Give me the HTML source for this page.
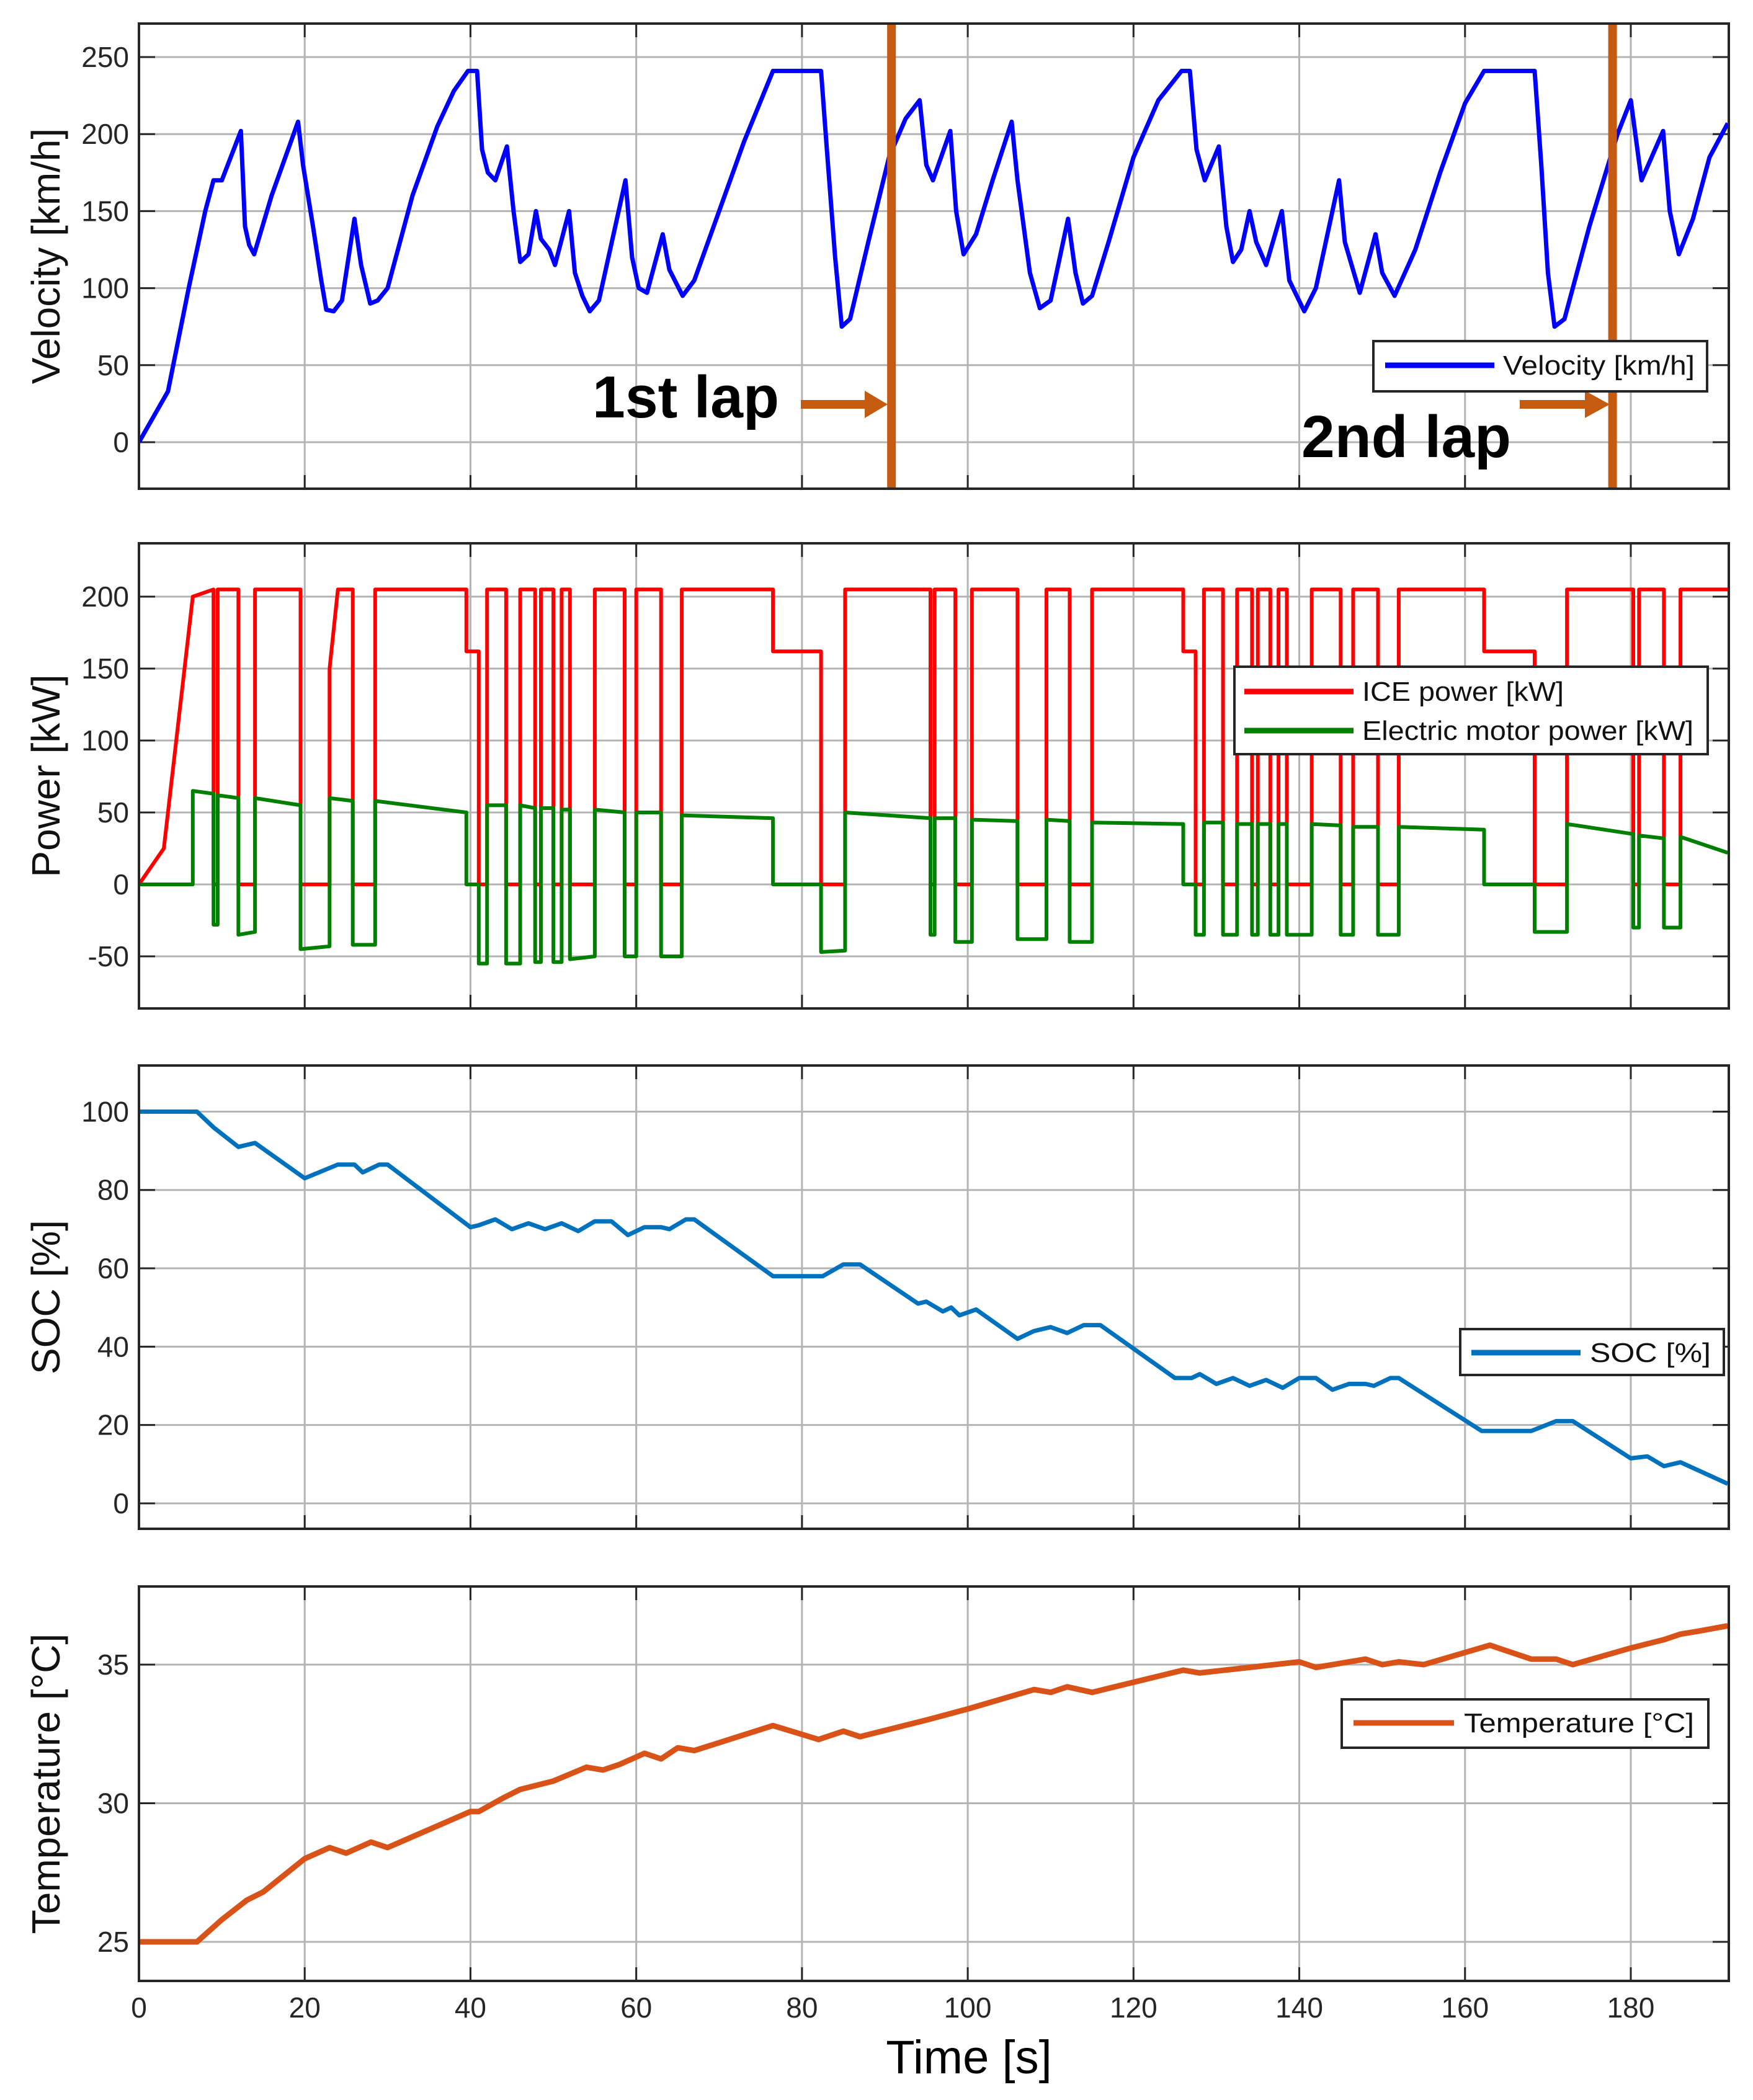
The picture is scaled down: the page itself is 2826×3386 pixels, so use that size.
<!DOCTYPE html>
<html><head><meta charset="utf-8">
<style>
html,body{margin:0;padding:0;background:#fff;}
svg{display:block;font-family:"Liberation Sans",sans-serif;}
</style></head>
<body>
<svg id="chart" width="2826" height="3386" viewBox="0 0 2826 3386" xmlns="http://www.w3.org/2000/svg">
<rect x="0" y="0" width="2826" height="3386" fill="#fff"/>
</svg>
<script>
// ---------- data ----------
const xTicks = [0,20,40,60,80,100,120,140,160,180];
const velTicks = [0,50,100,150,200,250];
const powTicks = [-50,0,50,100,150,200];
const socTicks = [0,20,40,60,80,100];
const tempTicks = [25,30,35];
const lapTimes = [90.8,177.8];

const velocity = [[0,0],[3.5,33],[6,100],[8,150],[9,170],[10,170],[12.3,202],[12.8,140],[13.3,128],[13.9,122],[16,160],[19.2,208],[19.8,180],[21,140],[22,105],[22.6,86],[23.5,85],[24.5,92],[26,145],[26.8,115],[27.9,90],[28.8,92],[30,100],[33,160],[36,205],[38,228],[39.7,241],[40.8,241],[41.4,190],[42.1,175],[43,170],[44.4,192],[45.2,150],[46,117],[47,122],[47.9,150],[48.5,132],[49.5,125],[50.2,115],[51.9,150],[52.6,110],[53.5,95],[54.4,85],[55.5,92],[58.7,170],[59.5,120],[60.3,100],[61.3,97],[63.2,135],[64,112],[65.6,95],[67,105],[70,150],[73,195],[76.5,241],[82.3,241],[83,190],[84,120],[84.8,75],[85.8,80],[88,130],[90.5,185],[92.5,210],[94.2,222],[95,180],[95.8,170],[97.9,202],[98.6,150],[99.5,122],[101,135],[103,170],[105.3,208],[106,170],[107.5,110],[108.7,87],[110,92],[112.1,145],[113,110],[113.9,90],[115,95],[117,130],[120,185],[123,222],[125.8,241],[126.8,241],[127.6,190],[128.6,170],[130.3,192],[131.2,140],[132,117],[133,125],[134,150],[134.8,130],[136,115],[137.9,150],[138.8,105],[140.6,85],[142,100],[144.8,170],[145.5,130],[147.3,97],[149.2,135],[150,110],[151.5,95],[154,125],[157,175],[160,220],[162.3,241],[168.4,241],[169.2,180],[170,110],[170.8,75],[172,80],[175,140],[178.4,200],[180,222],[181.3,170],[183.9,202],[184.7,150],[185.8,122],[187.5,145],[189.5,185],[191.7,207]];

const icePower = [[0,0],[3,25],[6.5,200],[9,205],[9,0],[9.5,0],[9.5,205],[12,205],[12,0],[14,0],[14,205],[19.5,205],[19.5,0],[23,0],[23,150],[24,205],[25.8,205],[25.8,0],[28.5,0],[28.5,205],[39.5,205],[39.5,162],[41,162],[41,0],[42,0],[42,205],[44.3,205],[44.3,0],[46,0],[46,205],[47.8,205],[47.8,0],[48.5,0],[48.5,205],[50,205],[50,0],[51,0],[51,205],[52,205],[52,0],[55,0],[55,205],[58.6,205],[58.6,0],[60,0],[60,205],[63,205],[63,0],[65.5,0],[65.5,205],[76.5,205],[76.5,162],[82.3,162],[82.3,0],[85.2,0],[85.2,205],[95.5,205],[95.5,0],[96,0],[96,205],[98.5,205],[98.5,0],[100.5,0],[100.5,205],[106,205],[106,0],[109.5,0],[109.5,205],[112.3,205],[112.3,0],[115,0],[115,205],[126,205],[126,162],[127.5,162],[127.5,0],[128.5,0],[128.5,205],[130.8,205],[130.8,0],[132.5,0],[132.5,205],[134.3,205],[134.3,0],[135,0],[135,205],[136.5,205],[136.5,0],[137.5,0],[137.5,205],[138.5,205],[138.5,0],[141.5,0],[141.5,205],[145,205],[145,0],[146.5,0],[146.5,205],[149.5,205],[149.5,0],[152,0],[152,205],[162.3,205],[162.3,162],[168.4,162],[168.4,0],[172.3,0],[172.3,205],[180.3,205],[180.3,0],[181,0],[181,205],[184,205],[184,0],[186,0],[186,205],[191.7,205]];

const emPower = [[0,0],[6.5,0],[6.5,65],[9,63],[9,-28],[9.5,-28],[9.5,62],[12,60],[12,-35],[14,-33],[14,60],[19.5,55],[19.5,-45],[23,-43],[23,60],[25.8,58],[25.8,-42],[28.5,-42],[28.5,58],[39.5,50],[39.5,0],[41,0],[41,-55],[42,-55],[42,55],[44.3,55],[44.3,-55],[46,-55],[46,55],[47.8,53],[47.8,-54],[48.5,-54],[48.5,53],[50,53],[50,-54],[51,-54],[51,52],[52,52],[52,-52],[55,-50],[55,52],[58.6,50],[58.6,-50],[60,-50],[60,50],[63,50],[63,-50],[65.5,-50],[65.5,48],[76.5,46],[76.5,0],[82.3,0],[82.3,-47],[85.2,-46],[85.2,50],[95.5,46],[95.5,-35],[96,-35],[96,46],[98.5,46],[98.5,-40],[100.5,-40],[100.5,45],[106,44],[106,-38],[109.5,-38],[109.5,45],[112.3,44],[112.3,-40],[115,-40],[115,43],[126,42],[126,0],[127.5,0],[127.5,-35],[128.5,-35],[128.5,43],[130.8,43],[130.8,-35],[132.5,-35],[132.5,42],[134.3,42],[134.3,-35],[135,-35],[135,42],[136.5,42],[136.5,-35],[137.5,-35],[137.5,42],[138.5,42],[138.5,-35],[141.5,-35],[141.5,42],[145,41],[145,-35],[146.5,-35],[146.5,40],[149.5,40],[149.5,-35],[152,-35],[152,40],[162.3,38],[162.3,0],[168.4,0],[168.4,-33],[172.3,-33],[172.3,42],[180.3,35],[180.3,-30],[181,-30],[181,34],[184,32],[184,-30],[186,-30],[186,33],[191.7,22]];

const soc = [[0,100],[7,100],[9,96],[12,91],[14,92],[20,83],[24,86.5],[26,86.5],[27,84.5],[29,86.5],[30,86.5],[40,70.5],[41,71],[43,72.5],[45,70],[47,71.5],[49,70],[51,71.5],[53,69.5],[55,72],[57,72],[59,68.5],[61,70.5],[63,70.5],[64,70],[66,72.5],[67,72.5],[76.5,58],[82.5,58],[85,61],[87,61],[94,51],[95,51.5],[97,49],[98,50],[99,48],[101,49.5],[106,42],[108,44],[110,45],[112,43.5],[114,45.5],[116,45.5],[125,32],[127,32],[128,33],[130,30.5],[132,32],[134,30],[136,31.5],[138,29.5],[140,32],[142,32],[144,29],[146,30.5],[148,30.5],[149,30],[151,32],[152,32],[162,18.5],[168,18.5],[171,21],[173,21],[180,11.5],[182,12],[184,9.5],[186,10.5],[191.7,5]];

const temperature = [[0,25],[7,25],[10,25.8],[13,26.5],[15,26.8],[20,28],[23,28.4],[25,28.2],[28,28.6],[30,28.4],[40,29.7],[41,29.7],[44,30.2],[46,30.5],[50,30.8],[54,31.3],[56,31.2],[58,31.4],[61,31.8],[63,31.6],[65,32],[67,31.9],[76.5,32.8],[82,32.3],[85,32.6],[87,32.4],[95,33],[100,33.4],[108,34.1],[110,34],[112,34.2],[115,34],[126,34.8],[128,34.7],[134,34.9],[140,35.1],[142,34.9],[148,35.2],[150,35],[152,35.1],[155,35],[163,35.7],[168,35.2],[171,35.2],[173,35],[180,35.6],[184,35.9],[186,36.1],[188,36.2],[191.7,36.4]];

// ---------- layout ----------
const NS = "http://www.w3.org/2000/svg";
const svg = document.getElementById('chart');
const X0 = 224, X1 = 2787, PXS = 13.361;
function xs(t){ return X0 + t*PXS; }
const panels = [
  {name:'velocity', top:38, bottom:788, y0:713, yUnit:2.484, base:0, ticks:velTicks, title:'Velocity [km/h]'},
  {name:'power', top:876, bottom:1626, y0:1426, yUnit:2.32, base:0, ticks:powTicks, title:'Power [kW]'},
  {name:'soc', top:1718, bottom:2465, y0:2424, yUnit:6.316, base:0, ticks:socTicks, title:'SOC [%]'},
  {name:'temperature', top:2558, bottom:3194, y0:3131, yUnit:44.7, base:25, ticks:tempTicks, title:'Temperature [°C]'}
];
function ys(p,v){ return p.y0 - (v-p.base)*p.yUnit; }
function mk(tag, attrs, parent){
  const e = document.createElementNS(NS, tag);
  for (const k in attrs) e.setAttribute(k, attrs[k]);
  (parent||svg).appendChild(e);
  return e;
}
function pathFrom(p, arr){
  return arr.map((d,i)=>(i?'L':'M')+xs(d[0]).toFixed(1)+' '+ys(p,d[1]).toFixed(1)).join(' ');
}

const defs = mk('defs',{});
panels.forEach((p,i)=>{
  const cp = mk('clipPath',{id:'clip'+i},defs);
  mk('rect',{x:X0,y:p.top,width:X1-X0,height:p.bottom-p.top},cp);
});

panels.forEach((p,i)=>{
  const g = mk('g',{});
  
  
  mk('rect',{x:X0,y:p.top,width:X1-X0,height:p.bottom-p.top,fill:'#fff'},g);
  // grid
  xTicks.forEach(t=>{
    const l = mk('line',{x1:xs(t),x2:xs(t),y1:p.top,y2:p.bottom,stroke:'#b4b4b4','stroke-width':3},g);
    
    
    mk('line',{x1:xs(t),x2:xs(t),y1:p.bottom,y2:p.bottom-22,stroke:'#262626','stroke-width':3},g);
    mk('line',{x1:xs(t),x2:xs(t),y1:p.top,y2:p.top+22,stroke:'#262626','stroke-width':3},g);
  });
  p.ticks.forEach(v=>{
    const y = ys(p,v);
    const l = mk('line',{x1:X0,x2:X1,y1:y,y2:y,stroke:'#b4b4b4','stroke-width':3},g);
    
    
    mk('line',{x1:X0,x2:X0+26,y1:y,y2:y,stroke:'#262626','stroke-width':3},g);
    mk('line',{x1:X1,x2:X1-26,y1:y,y2:y,stroke:'#262626','stroke-width':3},g);
    const tx = mk('text',{x:208,y:y+16,'font-size':46,'text-anchor':'end',fill:'#262626'},g);
    tx.textContent = v;
    
    
  });
  const tt = mk('text',{x:0,y:0,'font-size':64,'text-anchor':'middle',fill:'#111',transform:'translate(96,'+((p.top+p.bottom)/2)+') rotate(-90)'},g);
  tt.textContent = p.title;
  
  
  p.g = g;
});

function series(pi, arr, color, w, name){
  const p = panels[pi];
  const e = mk('path',{d:pathFrom(p,arr),fill:'none',stroke:color,'stroke-width':w,'stroke-linejoin':'round','clip-path':'url(#clip'+pi+')'},p.g);
  
  
}
series(0, velocity, '#0000ff', 7, 'velocity-line');
series(1, icePower, '#ff0000', 6, 'ice-power-line');
series(1, emPower, '#007f00', 6, 'electric-motor-power-line');
series(2, soc, '#0072bd', 7, 'soc-line');
series(3, temperature, '#d95319', 9, 'temperature-line');

// lap markers
lapTimes.forEach((t,i)=>{
  const l = mk('line',{x1:xs(t),x2:xs(t),y1:38,y2:788,stroke:'#c55a11','stroke-width':14});
  
  
});

// axes boxes
panels.forEach(p=>{
  mk('rect',{x:X0,y:p.top,width:X1-X0,height:p.bottom-p.top,fill:'none',stroke:'#262626','stroke-width':4});
});

// x tick labels
xTicks.forEach(t=>{
  const tx = mk('text',{x:xs(t),y:3253,'font-size':46,'text-anchor':'middle',fill:'#262626'});
  tx.textContent = t;
  
  
});
const xt = mk('text',{x:1562,y:3343,'font-size':76,'text-anchor':'middle',fill:'#000'});
xt.textContent = 'Time [s]';



// lap annotations
function arrow(x1,x2,hx,y,name){
  const e = mk('polygon',{points:`${x1},${y-7} ${hx},${y-7} ${hx},${y-22} ${x2},${y} ${hx},${y+22} ${hx},${y+7} ${x1},${y+7}`,fill:'#c55a11'});
  
  
}
const l1 = mk('text',{x:955,y:673,'font-size':96,'font-weight':'bold',fill:'#000',textLength:301,lengthAdjust:'spacingAndGlyphs'});
l1.textContent='1st lap';


arrow(1291,1431,1394,652,'first-lap-arrow');
const l2 = mk('text',{x:2098,y:737,'font-size':96,'font-weight':'bold',fill:'#000',textLength:338,lengthAdjust:'spacingAndGlyphs'});
l2.textContent='2nd lap';


arrow(2450,2595,2555,652,'second-lap-arrow');

// legends
function legend(name, x1,y1,x2,y2, entries){
  const g = mk('g',{});
  
  
  mk('rect',{x:x1,y:y1,width:x2-x1,height:y2-y1,fill:'#fff',stroke:'#262626','stroke-width':4},g);
  entries.forEach(en=>{
    mk('line',{x1:en.lx1,x2:en.lx2,y1:en.y,y2:en.y,stroke:en.c,'stroke-width':9},g);
    const t = mk('text',{x:en.tx,y:en.y+15,'font-size':44,fill:'#111',textLength:en.tw,lengthAdjust:'spacingAndGlyphs'},g);
    t.textContent = en.label;
    
    
  });
}
legend('velocity-legend',2214,550,2752,631,[{lx1:2233,lx2:2409,y:589,c:'#0000ff',tx:2423,tw:309,label:'Velocity [km/h]'}]);
legend('power-legend',1990,1075,2753,1216,[
  {lx1:2006,lx2:2182,y:1115,c:'#ff0000',tx:2196,tw:325,label:'ICE power [kW]'},
  {lx1:2006,lx2:2182,y:1178,c:'#007f00',tx:2196,tw:534,label:'Electric motor power [kW]'}]);
legend('soc-legend',2354,2143,2779,2217,[{lx1:2372,lx2:2548,y:2181,c:'#0072bd',tx:2563,tw:195,label:'SOC  [%]'}]);
legend('temperature-legend',2163,2740,2754,2818,[{lx1:2182,lx2:2344,y:2778,c:'#d95319',tx:2360,tw:371,label:'Temperature  [°C]'}]);
</script>
</body></html>
